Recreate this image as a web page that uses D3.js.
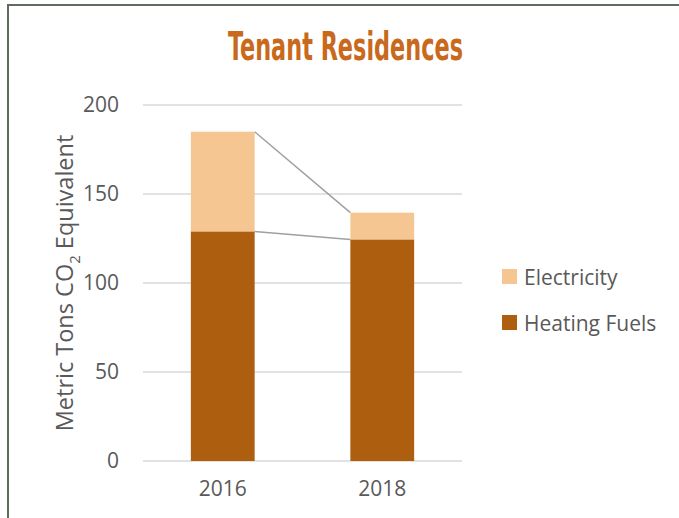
<!DOCTYPE html>
<html>
<head>
<meta charset="utf-8">
<script src="https://cdn.jsdelivr.net/npm/d3@7"></script>
<style>
  body { margin: 0; background: #fff; }
  svg { display: block; font-family: "Open Sans", sans-serif; }
</style>
</head>
<body>
<div id="chart"></div>
<script>
// data
var years = ["2016", "2018"];
var heatingFuels = [129, 124.5];
var electricity = [56, 15];
var seriesNames = ["Heating Fuels", "Electricity"];
var seriesColors = ["#ae5e0f", "#f5c692"];
var yTicks = [0, 50, 100, 150, 200];

var W = 679, H = 518;
var svg = d3.select("#chart").append("svg")
    .attr("width", W)
    .attr("height", H);

// outer frame
svg.append("rect")
    .attr("x", 8).attr("y", 5)
    .attr("width", W + 20).attr("height", H + 20)
    .attr("fill", "none")
    .attr("stroke", "#606b5f")
    .attr("stroke-width", 2);

// title
svg.append("text")
    .attr("x", 345.5).attr("y", 60)
    .attr("text-anchor", "middle")
    .attr("textLength", 235)
    .attr("lengthAdjust", "spacingAndGlyphs")
    .style("font-family", "'Liberation Sans Narrow', 'DejaVu Sans Condensed', sans-serif")
    .style("font-weight", "bold")
    .style("font-size", "39px")
    .style("fill", "#c8691c")
    .text("Tenant Residences");

var x = d3.scaleBand()
    .domain(years)
    .range([143, 462])
    .paddingInner(0.6)
    .paddingOuter(0.3);

var y = d3.scaleLinear()
    .domain([0, 200])
    .range([461, 105]);

// gridlines
svg.append("g")
  .selectAll("line")
  .data(yTicks)
  .enter().append("line")
    .attr("x1", 143).attr("x2", 462)
    .attr("y1", function(d) { return y(d); })
    .attr("y2", function(d) { return y(d); })
    .attr("stroke", "#d9d9d9")
    .attr("stroke-width", 1.5);

// y axis
var yAxis = svg.append("g")
    .attr("transform", "translate(143,0)")
    .call(d3.axisLeft(y).tickValues(yTicks).tickSize(0).tickPadding(24));
yAxis.select(".domain").remove();
yAxis.selectAll("text")
    .style("font-size", "21px")
    .style("fill", "#595959")
    .style("font-family", "'Open Sans', sans-serif");

// x axis
var xAxis = svg.append("g")
    .attr("transform", "translate(0,461)")
    .call(d3.axisBottom(x).tickSize(0).tickPadding(20));
xAxis.select(".domain").remove();
xAxis.selectAll("text")
    .style("font-size", "21px")
    .style("fill", "#595959")
    .style("font-family", "'Open Sans', sans-serif");

// stacked bars
var rows = years.map(function(yr, i) {
  return { year: yr, "Heating Fuels": heatingFuels[i], "Electricity": electricity[i] };
});
var stacked = d3.stack().keys(seriesNames)(rows);

// series lines between bars
stacked.forEach(function(s) {
  svg.append("line")
      .attr("x1", x(years[0]) + x.bandwidth())
      .attr("y1", y(s[0][1]))
      .attr("x2", x(years[1]))
      .attr("y2", y(s[1][1]))
      .attr("stroke", "#a0a0a0")
      .attr("stroke-width", 1.5);
});

svg.append("g")
  .selectAll("g")
  .data(stacked)
  .enter().append("g")
    .attr("fill", function(d, i) { return seriesColors[i]; })
  .selectAll("rect")
  .data(function(d) { return d; })
  .enter().append("rect")
    .attr("x", function(d) { return x(d.data.year); })
    .attr("y", function(d) { return y(d[1]); })
    .attr("width", x.bandwidth())
    .attr("height", function(d) { return y(d[0]) - y(d[1]); });

// y label
svg.append("text")
    .attr("transform", "translate(73,283) rotate(-90)")
    .attr("text-anchor", "middle")
    .style("font-size", "23.5px")
    .style("fill", "#595959")
    .html("Metric Tons CO<tspan dy='7' font-size='15px'>2</tspan><tspan dy='-7'> Equivalent</tspan>");

// legend
var legendItems = [
  { name: "Electricity", color: seriesColors[1] },
  { name: "Heating Fuels", color: seriesColors[0] }
];
var legend = svg.append("g")
  .selectAll("g")
  .data(legendItems)
  .enter().append("g")
    .attr("transform", function(d, i) { return "translate(502," + (269 + i * 46) + ")"; });
legend.append("rect")
    .attr("width", 15).attr("height", 15)
    .attr("fill", function(d) { return d.color; });
legend.append("text")
    .attr("x", 22).attr("y", 16)
    .style("font-size", "21px")
    .style("fill", "#595959")
    .text(function(d) { return d.name; });
</script>
</body>
</html>
